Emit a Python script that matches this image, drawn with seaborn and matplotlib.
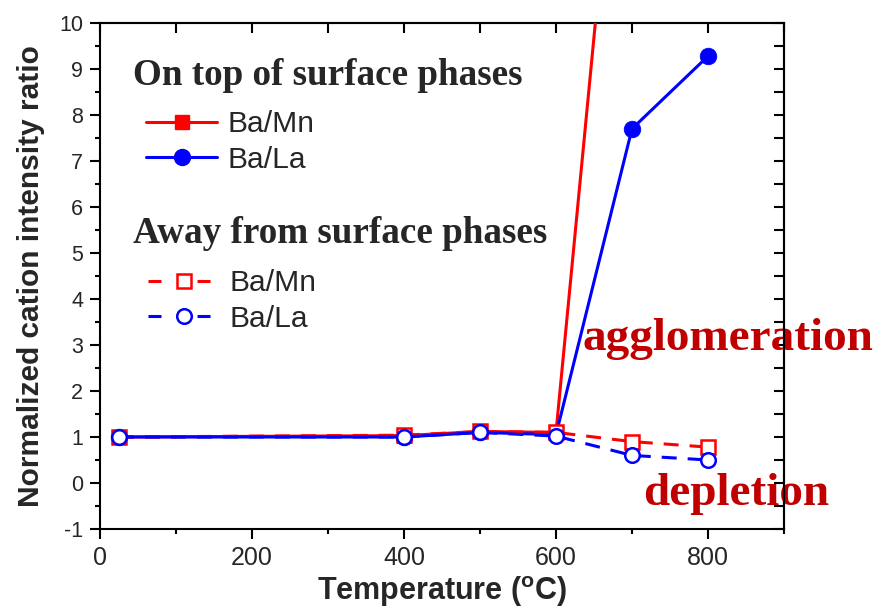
import numpy as np
import matplotlib
matplotlib.use("Agg")
import matplotlib.pyplot as plt
from matplotlib.lines import Line2D
from matplotlib.ticker import MultipleLocator, FixedLocator
import seaborn as sns

# Cation intensity ratios vs. annealing temperature
temperature = [25, 400, 500, 600, 700, 800]
top_ba_mn = [1.00, 1.03, 1.12, 1.10, 18.3, 25.0]
top_ba_la = [1.00, 1.00, 1.10, 1.05, 7.70, 9.28]
away_ba_mn = [1.00, 1.04, 1.12, 1.10, 0.90, 0.78]
away_ba_la = [1.00, 1.00, 1.10, 1.02, 0.60, 0.50]

x_ticks = [0, 200, 400, 600, 800]
y_ticks = list(range(-1, 11))
series_labels = ["Ba/Mn", "Ba/La"]

RED = "#ff0000"
BLUE = "#0000ff"
DARK_RED = "#c00000"

sns.set_theme(style="ticks")
plt.rcParams["font.family"] = ["Liberation Sans", "DejaVu Sans"]
plt.rcParams["axes.linewidth"] = 1.5
plt.rcParams["axes.unicode_minus"] = False

W, H = 881, 611
fig = plt.figure(figsize=(W / 100, H / 100), dpi=100)
ax = fig.add_axes([100 / W, 82 / H, 684 / W, 506 / H])

LW = 2.2
common = dict(ax=ax, sort=False, estimator=None, linewidth=LW)

# surface-phase series (solid, filled markers)
sns.lineplot(x=temperature, y=top_ba_mn, color=RED, marker="s", markersize=10.5,
             markerfacecolor=RED, markeredgecolor=RED, markeredgewidth=0.5,
             zorder=3, **common)
sns.lineplot(x=temperature, y=top_ba_la, color=BLUE, marker="o", markersize=12,
             markerfacecolor=BLUE, markeredgecolor=BLUE, markeredgewidth=0.5,
             zorder=3, **common)
# away-from-phase series (dashed, open markers)
sns.lineplot(x=temperature, y=away_ba_mn, color=RED, marker="s", markersize=9.5,
             markerfacecolor="white", markeredgecolor=RED, markeredgewidth=1.8,
             linestyle=(0, (4.9, 3.6)), zorder=4, **common)
sns.lineplot(x=temperature, y=away_ba_la, color=BLUE, marker="o", markersize=10.5,
             markerfacecolor="white", markeredgecolor=BLUE, markeredgewidth=1.8,
             linestyle=(0, (4.9, 3.6)), zorder=4, **common)

ax.set_xlim(0, 900)
ax.set_ylim(-1, 10)
ax.xaxis.set_major_locator(FixedLocator(x_ticks))
ax.xaxis.set_minor_locator(MultipleLocator(100))
ax.yaxis.set_major_locator(FixedLocator(y_ticks))
ax.yaxis.set_minor_locator(MultipleLocator(0.5))
ax.tick_params(axis="both", which="major", direction="out", length=7, width=1.5,
               color="black")
ax.tick_params(axis="both", which="minor", direction="out", length=3.5, width=1.5,
               color="black")
ax.tick_params(axis="x", which="major", labelsize=18, pad=5)
ax.tick_params(axis="y", which="major", labelsize=15.5, pad=5)
for s in ax.spines.values():
    s.set_visible(True)
    s.set_color("black")
    s.set_linewidth(1.5)

# mirrored inward ticks on top and right
top = ax.secondary_xaxis("top")
top.xaxis.set_major_locator(MultipleLocator(100))
top.tick_params(direction="in", length=7, width=1.5, labeltop=False, color="black")
right = ax.secondary_yaxis("right")
right.yaxis.set_major_locator(MultipleLocator(0.5))
right.tick_params(direction="in", length=7, width=1.5, labelright=False, color="black")

ax.set_xlabel(r"Temperature ($^\mathregular{o}$C)", fontsize=22, fontweight="bold",
              labelpad=3)
ax.set_ylabel("Normalized cation intensity ratio", fontsize=21.5, fontweight="bold",
              labelpad=10)

# legends
def fx(px):
    return px / W

def fy(py):
    return 1 - py / H

serif = ["Liberation Serif", "DejaVu Serif"]
fig.text(fx(133), fy(85), "On top of surface phases", family=serif, fontweight="bold",
         fontsize=26.7, va="baseline", ha="left")
fig.text(fx(133), fy(243), "Away from surface phases", family=serif, fontweight="bold",
         fontsize=26.7, va="baseline", ha="left")

solid_handles = [
    Line2D([], [], color=RED, lw=LW, marker="s", markersize=10.5,
           markerfacecolor=RED, markeredgecolor=RED),
    Line2D([], [], color=BLUE, lw=LW, marker="o", markersize=11.5,
           markerfacecolor=BLUE, markeredgecolor=BLUE),
]
dash_style = (0, (4.25, 11.8))
open_handles = [
    Line2D([], [], color=RED, lw=LW, linestyle=dash_style, marker="s", markersize=9.5,
           markerfacecolor="white", markeredgecolor=RED, markeredgewidth=1.8),
    Line2D([], [], color=BLUE, lw=LW, linestyle=dash_style, marker="o", markersize=10.5,
           markerfacecolor="white", markeredgecolor=BLUE, markeredgewidth=1.8),
]
leg_kw = dict(loc="center left", bbox_transform=fig.transFigure, frameon=False,
              fontsize=21.6, handlelength=2.37, handletextpad=0.33,
              labelspacing=0.25, borderpad=0, borderaxespad=0)
leg1 = ax.legend(solid_handles, series_labels, bbox_to_anchor=(fx(146), fy(142)), **leg_kw)
ax.add_artist(leg1)
leg2 = ax.legend(open_handles, series_labels, bbox_to_anchor=(fx(148), fy(301)), **leg_kw)

# annotations (drawn beneath the frame)
ax.text(fx(582), fy(350), "agglomeration", transform=fig.transFigure, family=serif,
        fontweight="bold", fontsize=34, color=DARK_RED, va="baseline", ha="left",
        zorder=2, clip_on=False)
ax.text(fx(643), fy(505), "depletion", transform=fig.transFigure, family=serif,
        fontweight="bold", fontsize=34, color=DARK_RED, va="baseline", ha="left",
        zorder=2, clip_on=False)

fig.savefig("out.png", dpi=100)
